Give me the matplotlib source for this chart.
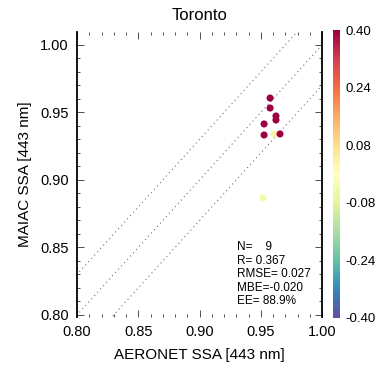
import matplotlib
matplotlib.use("Agg")
import matplotlib.pyplot as plt
import numpy as np
from matplotlib.ticker import MultipleLocator

plt.rcParams['font.family'] = ['Liberation Sans', 'DejaVu Sans']

# Data
aeronet_ssa = [0.9576, 0.9576, 0.9624, 0.9624, 0.9527, 0.9527, 0.9608, 0.9657, 0.9518]
maiac_ssa = [0.9607, 0.9533, 0.9474, 0.9444, 0.9415, 0.9333, 0.9341, 0.9341, 0.8867]
color_vals = [0.40, 0.40, 0.40, 0.40, 0.40, 0.40, 0.03, 0.40, -0.04]
ee_offsets = [0.0, 0.03, -0.03]
cbar_ticks = [0.40, 0.24, 0.08, -0.08, -0.24, -0.40]
stats_lines = ["N=    9", "R= 0.367", "RMSE= 0.027", "MBE=-0.020", "EE= 88.9%"]
title = "Toronto"
xlabel = "AERONET SSA [443 nm]"
ylabel = "MAIAC SSA [443 nm]"

fig = plt.figure(figsize=(3.82, 3.71), dpi=100)
ax = fig.add_axes([0.2016, 0.1456, 0.6414, 0.7681])

line_x = np.array([0.78, 1.03])
for off in ee_offsets:
    ax.plot(line_x, line_x + off, color='0.45', lw=0.8, linestyle=(0, (1, 3)))

sc = ax.scatter(aeronet_ssa, maiac_ssa, c=color_vals, cmap='Spectral_r',
                vmin=-0.4, vmax=0.4, s=26, edgecolors='none', zorder=3)

ax.set_xlim(0.80, 1.00)
ax.set_ylim(0.7985, 1.0096)
ax.xaxis.set_minor_locator(MultipleLocator(0.01))
ax.yaxis.set_minor_locator(MultipleLocator(0.01))
ax.set_xticks([0.80, 0.85, 0.90, 0.95, 1.00])
ax.set_xticklabels(["0.80", "0.85", "0.90", "0.95", "1.00"])
ax.set_yticks([0.80, 0.85, 0.90, 0.95, 1.00])
ax.set_yticklabels(["0.80", "0.85", "0.90", "0.95", "1.00"])
ax.tick_params(which='both', direction='in', top=True, right=True, labelsize=10.5,
               width=0.6, color='0.2')
ax.tick_params(which='major', length=5, pad=6)
ax.tick_params(which='minor', length=2.5)
ax.spines['top'].set_visible(False)
ax.spines['bottom'].set_visible(False)
ax.spines['left'].set_linewidth(1.3)
ax.spines['right'].set_linewidth(1.3)

ax.set_title(title, fontsize=12, pad=9)
ax.set_xlabel(xlabel, fontsize=11, labelpad=6)
ax.set_ylabel(ylabel, fontsize=11, labelpad=6)

ax.text(0.655, 0.265, "\n".join(stats_lines), transform=ax.transAxes,
        fontsize=8.5, va='top', ha='left', linespacing=1.15)

cax = fig.add_axes([0.872, 0.143, 0.018, 0.775])
cb = fig.colorbar(sc, cax=cax, ticks=cbar_ticks)
cb.ax.set_yticklabels([f"{t:.2f}" for t in cbar_ticks])
cb.ax.tick_params(length=0, labelsize=9.5, pad=4)
cb.outline.set_visible(False)

fig.savefig("out.png", dpi=100)
